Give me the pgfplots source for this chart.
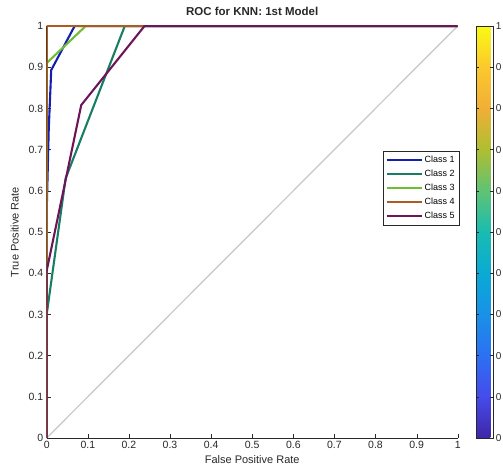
\documentclass[border=0pt]{standalone}
\usepackage{pgfplots}
\pgfplotsset{compat=1.18}
\usepackage{fontspec}
\setmainfont{Liberation Sans}
\definecolor{cA}{RGB}{20,30,175}
\definecolor{cB}{RGB}{25,125,100}
\definecolor{cC}{RGB}{110,190,50}
\definecolor{cD}{RGB}{175,90,30}
\definecolor{cE}{RGB}{110,20,90}
\definecolor{axgray}{RGB}{40,40,40}
\begin{document}
\begin{tikzpicture}
\begin{axis}[
  at={(46.7pt,38pt)}, anchor=south west,
  scale only axis, width=411pt, height=412pt,
  xmin=0, xmax=1, ymin=0, ymax=1,
  axis lines=left, axis line style={-, color=axgray},
  xtick={0,0.1,0.2,0.3,0.4,0.5,0.6,0.7,0.8,0.9,1},
  ytick={0,0.1,0.2,0.3,0.4,0.5,0.6,0.7,0.8,0.9,1},
  tick align=inside, major tick length=4pt,
  tick style={color=axgray},
  /pgf/number format/assume math mode=true,
  tick label style={font=\fontsize{10.5}{12}\selectfont, color=axgray},
  xlabel={False Positive Rate}, ylabel={True Positive Rate},
  label style={font=\fontsize{11}{13}\selectfont, color=axgray},
  ylabel style={xshift=0pt, yshift=3pt},
  title={\textbf{ROC for KNN: 1st Model}},
  title style={font=\fontsize{11.5}{13}\selectfont, color=axgray, yshift=1pt},
  colormap={parula}{rgb255=(62,38,168) rgb255=(70,75,235) rgb255=(45,112,242) rgb255=(25,145,232) rgb255=(10,170,212) rgb255=(25,188,178) rgb255=(95,195,115) rgb255=(175,190,50) rgb255=(240,175,55) rgb255=(252,200,45) rgb255=(249,250,20)},
  colorbar, point meta min=0, point meta max=1,
  colorbar style={at={(parent axis.north east)}, anchor=north west,
    xshift=9.8pt, width=17.3pt,
    ytick={0,0.1,0.2,0.3,0.4,0.5,0.6,0.7,0.8,0.9,1},
    yticklabels={0,0,0,0,0,0,0,0,0,0,1},
    tick align=inside, major tick length=3pt,
    yticklabel style={font=\fontsize{10}{12}\selectfont, color=axgray, xshift=-1pt},
    axis line style={color=axgray}},
  legend style={at={(rel axis cs:1.004,0.697)}, anchor=north east,
    font=\fontsize{9}{10.5}\selectfont, draw=axgray, cells={anchor=west},
    inner sep=2.5pt, row sep=2.2pt},
  legend image code/.code={\draw[#1, line width=2pt] (0pt,0pt) -- (35pt,0pt);},
]
\addplot[color=black!22, line width=1.2pt, forget plot] coordinates {(0,0) (1,1)};
\addplot[cA, line width=2.1pt] coordinates {(0,0) (0,0.55) (0.005,0.75) (0.011,0.893) (0.068,1) (1,1)};
\addlegendentry{Class 1}
\addplot[cB, line width=2.1pt] coordinates {(0,0) (0,0.30) (0.046,0.63) (0.19,1) (1,1)};
\addlegendentry{Class 2}
\addplot[cC, line width=2.1pt] coordinates {(0,0) (0,0.91) (0.095,1) (1,1)};
\addlegendentry{Class 3}
\addplot[cD, line width=2.1pt] coordinates {(0,0) (0,1) (1,1)};
\addlegendentry{Class 4}
\addplot[cE, line width=2.1pt] coordinates {(0,0) (0,0.406) (0.084,0.808) (0.238,1) (1,1)};
\addlegendentry{Class 5}
\end{axis}
\pgfresetboundingbox
\useasboundingbox (0,0) rectangle (503pt,476pt);
\end{tikzpicture}
\end{document}
